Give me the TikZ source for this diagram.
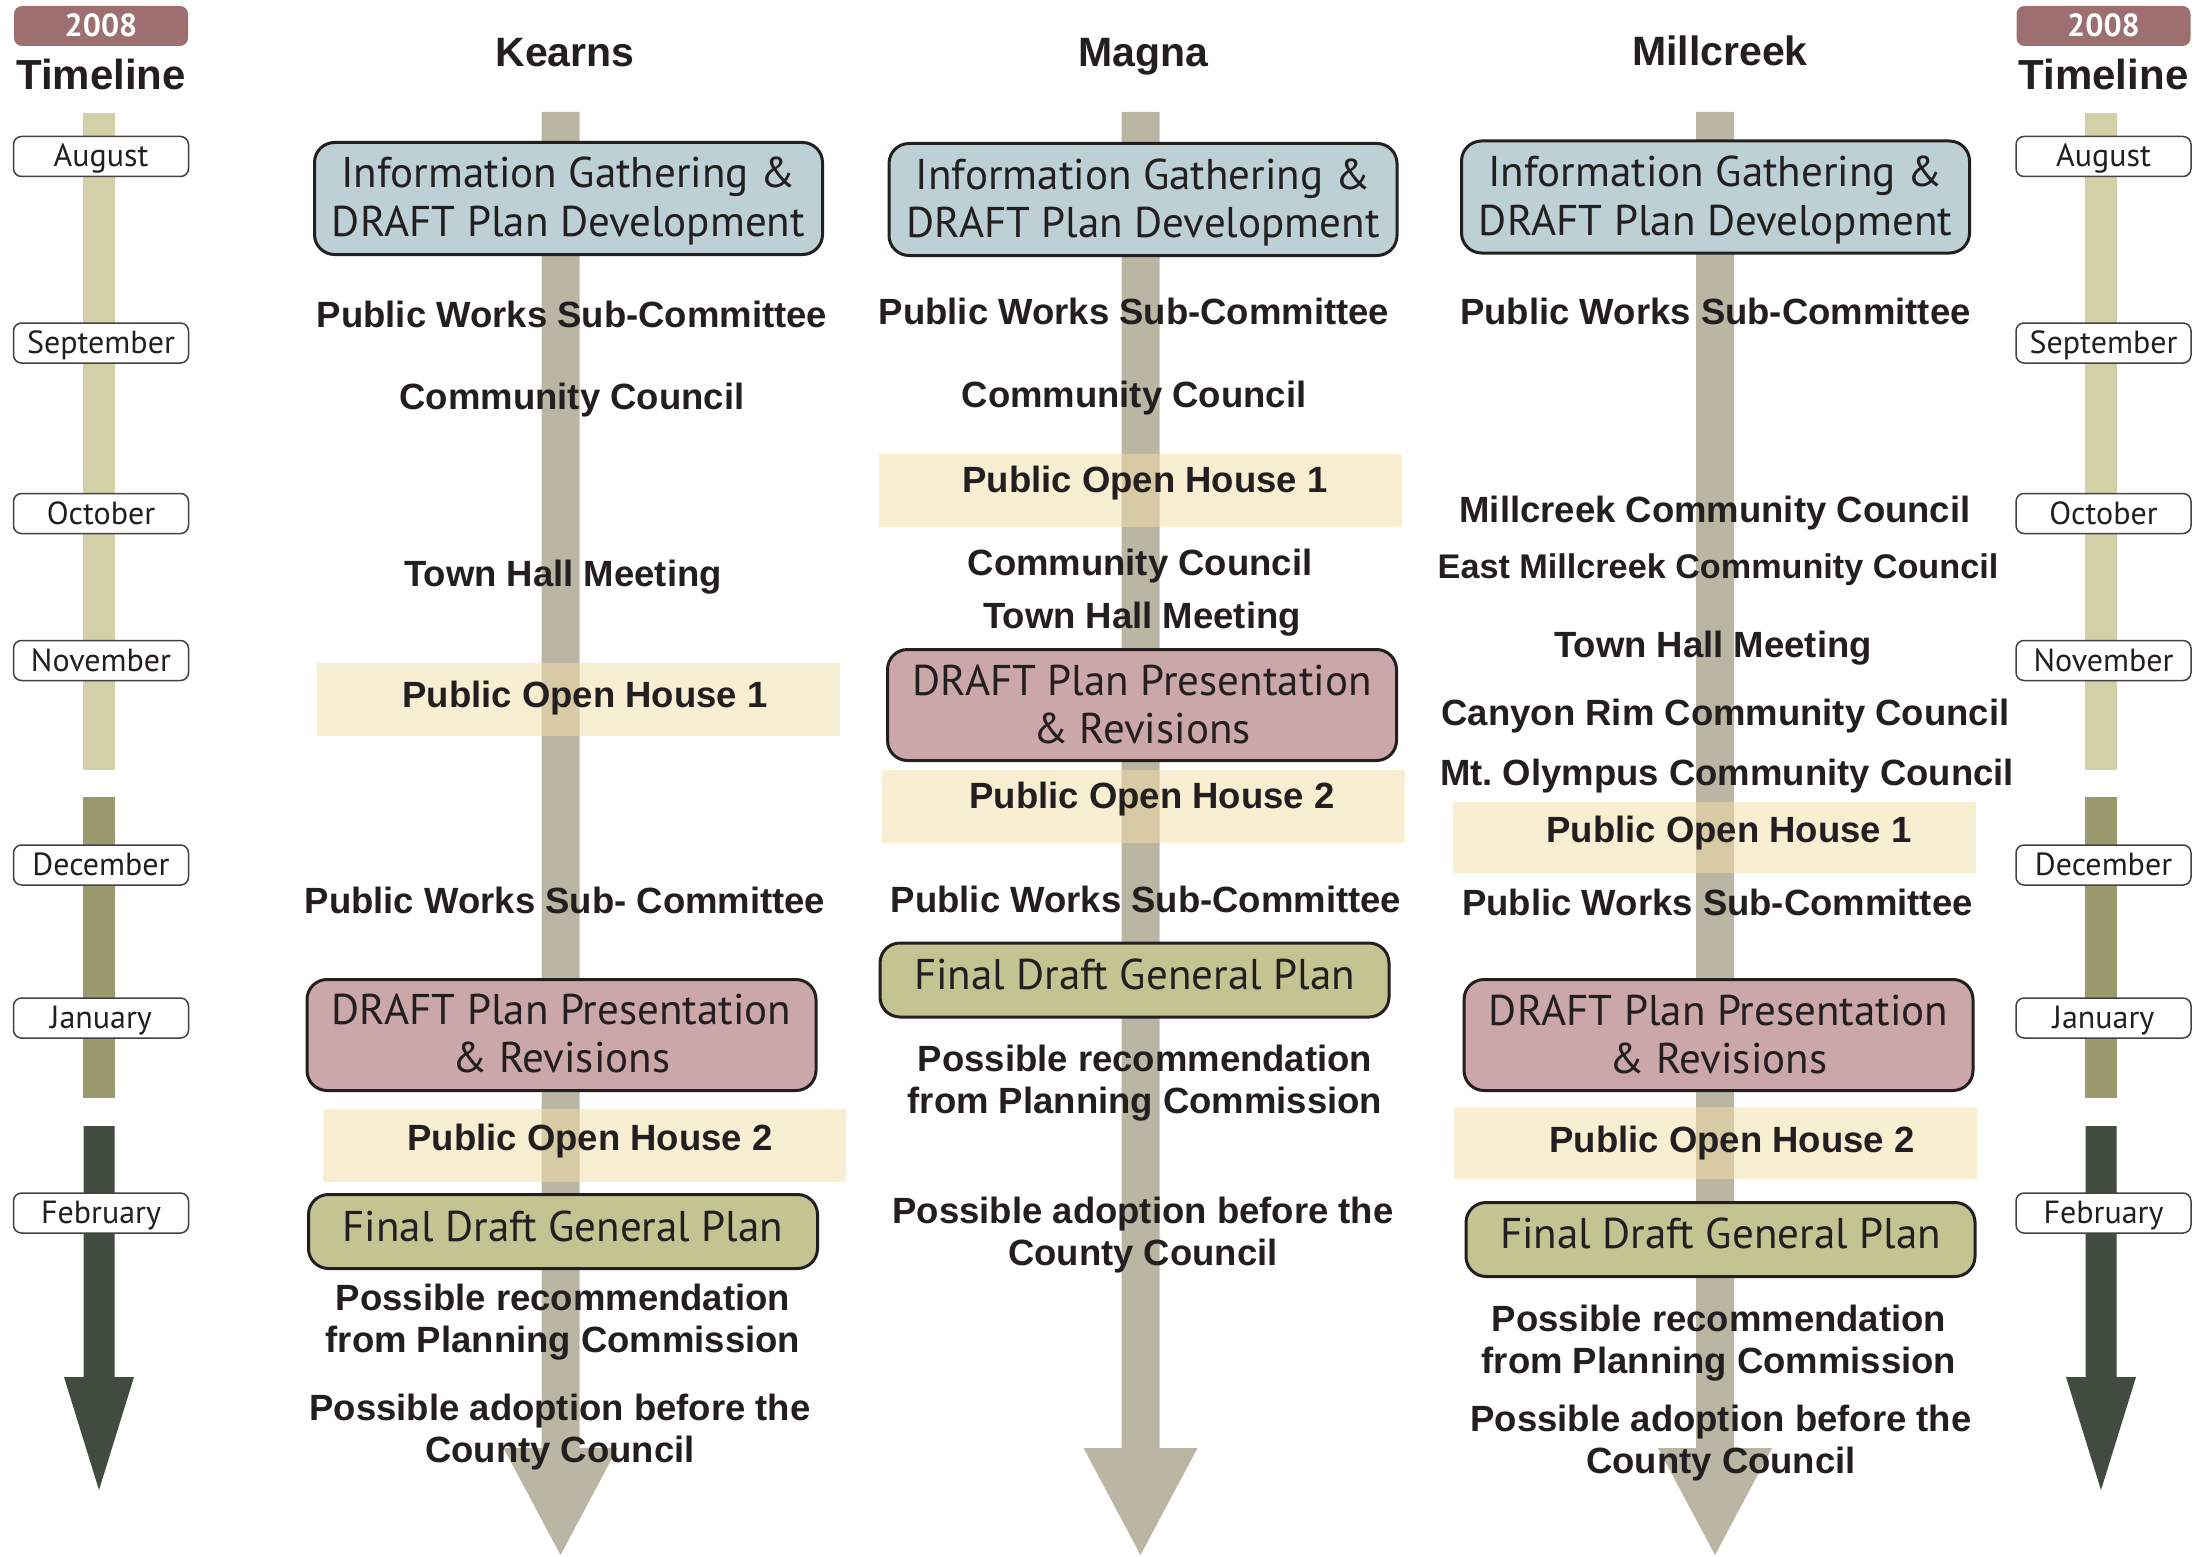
\documentclass[tikz,border=0pt]{standalone}
\usepackage{fontspec}
\setmainfont{Liberation Sans}
\newfontfamily\myriad{PT Sans}

\definecolor{ink}{HTML}{231F20}
\definecolor{badgeRose}{HTML}{9E6F71}
\definecolor{tlLight}{HTML}{D3D0A8}
\definecolor{tlMid}{HTML}{9A9A6E}
\definecolor{tlDark}{HTML}{414B40}
\definecolor{shaftGrey}{HTML}{BBB6A3}
\definecolor{infoBlue}{HTML}{BCD0D6}
\definecolor{draftPink}{HTML}{CBA7AA}
\definecolor{finalOlive}{HTML}{C4C392}
\definecolor{openYellow}{HTML}{F3DFA5}

% vertical column arrow centred at x = #1
\newcommand\colarrow[1]{%
  \fill[shaftGrey] ({#1-19},112) -- ({#1+19},112) -- ({#1+19},1448) -- ({#1+57},1448)
    -- (#1,1555) -- ({#1-57},1448) -- ({#1-19},1448) -- cycle;}

% month timeline strip centred at x = #1
\newcommand\timestrip[1]{%
  \fill[tlLight] ({#1-16},113) rectangle ({#1+16},770);
  \fill[tlMid] ({#1-16},797) rectangle ({#1+16},1098);
  \fill[tlDark] ({#1-15.5},1126) -- ({#1+15.5},1126) -- ({#1+15.5},1377) -- ({#1+35},1377)
    -- (#1,1490) -- ({#1-35},1377) -- ({#1-15.5},1377) -- cycle;}

\begin{document}
\begin{tikzpicture}[x=1pt,y=-1pt,
  stage/.style={draw=ink, line width=3pt, rounded corners=20pt, inner sep=0pt},
  infobox/.style={stage, fill=infoBlue, minimum width=508pt, minimum height=112pt},
  draftbox/.style={stage, fill=draftPink, minimum width=509pt, minimum height=111pt},
  finalbox/.style={stage, fill=finalOlive, minimum width=509pt, minimum height=74pt},
  openband/.style={fill=openYellow, fill opacity=0.5, draw=none, inner sep=0pt,
    minimum width=523pt, minimum height=73pt},
  boxtxt/.style={font=\myriad\fontsize{43}{48}\selectfont, text=ink, align=center,
    inner sep=0pt, anchor=base},
  evt/.style={font=\bfseries\fontsize{36.5}{41.5}\selectfont, text=ink, align=center,
    inner sep=0pt, anchor=base},
  heading/.style={font=\bfseries\fontsize{41}{41}\selectfont, text=ink, inner sep=0pt, anchor=base},
  month/.style={draw=ink!85, line width=1.5pt, fill=white, rounded corners=8pt,
    minimum width=175pt, minimum height=40pt, inner sep=0pt,
    font=\myriad\fontsize{32}{32}\selectfont, text=ink, text height=25pt, text depth=4pt},
  yearbadge/.style={fill=badgeRose, rounded corners=8pt, minimum width=174pt, minimum height=40pt,
    inner sep=0pt, font=\myriad\bfseries\fontsize{32}{32}\selectfont, text=white,
    text height=22pt, text depth=0pt},
  tltitle/.style={font=\bfseries\fontsize{42}{42}\selectfont, text=ink, inner sep=0pt, anchor=base}
]
\useasboundingbox (0,0) rectangle (2194,1557);
\fill[white] (0,0) rectangle (2194,1557);

% ---------- side timelines ----------
\timestrip{99}
\timestrip{2101}
\foreach \side/\cx in {L/101, R/2103.5} {
  \node[yearbadge] (year\side) at (\cx,26) {2008};
  \node[tltitle] (tl\side) at (\cx,90) {Timeline};
  \node[month] (aug\side) at (\cx,156.5) {August};
  \node[month] (sep\side) at (\cx,343) {September};
  \node[month] (oct\side) at (\cx,513.5) {October};
  \node[month] (nov\side) at (\cx,660.5) {November};
  \node[month] (dec\side) at (\cx,865) {December};
  \node[month] (jan\side) at (\cx,1018) {January};
  \node[month] (feb\side) at (\cx,1213) {February};
}

% ---------- column arrows ----------
\colarrow{560.5}
\colarrow{1140.5}
\colarrow{1715}

% ---------- headings ----------
\node[heading] (kearns) at (565,67) {Kearns};
\node[heading] (magna) at (1143,67) {Magna};
\node[heading] (millcreek) at (1720,66) {Millcreek};

% ---------- open house bands ----------
\node[openband] (kpoh1) at (578.5,699.5) {};
\node[openband] (kpoh2) at (584.5,1145.5) {};
\node[openband] (mpoh1) at (1140.5,490.5) {};
\node[openband] (mpoh2) at (1143.5,806.5) {};
\node[openband, minimum height=71pt] (cpoh1) at (1714.5,837.5) {};
\node[openband, minimum height=72pt] (cpoh2) at (1715,1143) {};

% ---------- stage boxes ----------
\node[infobox] (kinfo) at (568.5,198.5) {};
\node[infobox] (minfo) at (1143,199.5) {};
\node[infobox] (cinfo) at (1715.5,197) {};
\node[draftbox] (kdraft) at (561.5,1035) {};
\node[draftbox] (mdraft) at (1142,705) {};
\node[draftbox] (cdraft) at (1718.5,1035) {};
\node[finalbox] (kfinal) at (563,1231.5) {};
\node[finalbox] (mfinal) at (1134.5,980) {};
\node[finalbox] (cfinal) at (1720.5,1239.5) {};

% two-line texts are anchored on the baseline of their last line
\node[boxtxt] (kinfoT) at (568.5,236) {Information Gathering \&\\DRAFT Plan Development};
\node[boxtxt] (minfoT) at (1143,237) {Information Gathering \&\\DRAFT Plan Development};
\node[boxtxt] (cinfoT) at (1715.5,235) {Information Gathering \&\\DRAFT Plan Development};
\node[boxtxt] (kdraftT) at (561.5,1072) {DRAFT Plan Presentation\\\& Revisions};
\node[boxtxt] (mdraftT) at (1142,743) {DRAFT Plan Presentation\\\& Revisions};
\node[boxtxt] (cdraftT) at (1718.5,1073) {DRAFT Plan Presentation\\\& Revisions};
\node[boxtxt] (kfinalT) at (563,1241) {Final Draft General Plan};
\node[boxtxt] (mfinalT) at (1134.5,989) {Final Draft General Plan};
\node[boxtxt] (cfinalT) at (1720.5,1248) {Final Draft General Plan};

% ---------- Kearns events ----------
\node[evt] (k1) at (572,327) {Public Works Sub-Committee};
\node[evt] (k2) at (572,409) {Community Council};
\node[evt] (k3) at (563,586) {Town Hall Meeting};
\node[evt] (k4) at (585,707) {Public Open House 1};
\node[evt] (k5) at (565,913) {Public Works Sub- Committee};
\node[evt] (k6) at (590,1150) {Public Open House 2};
\node[evt] (k7) at (563,1352) {Possible recommendation\\from Planning Commission};
\node[evt] (k8) at (560,1462) {Possible adoption before the\\County Council};

% ---------- Magna events ----------
\node[evt] (m1) at (1134,324) {Public Works Sub-Committee};
\node[evt] (m2) at (1134,407) {Community Council};
\node[evt] (m3) at (1145,492) {Public Open House 1};
\node[evt] (m4) at (1140,575) {Community Council};
\node[evt] (m5) at (1142,628) {Town Hall Meeting};
\node[evt] (m6) at (1152,808) {Public Open House 2};
\node[evt] (m7) at (1146,912) {Public Works Sub-Committee};
\node[evt] (m8) at (1145,1113) {Possible recommendation\\from Planning Commission};
\node[evt] (m9) at (1143,1265) {Possible adoption before the\\County Council};

% ---------- Millcreek events ----------
\node[evt] (c1) at (1715.5,324) {Public Works Sub-Committee};
\node[evt] (c2) at (1715,522) {Millcreek Community Council};
\node[evt, font=\bfseries\fontsize{34.2}{40}\selectfont] (c3) at (1718,578) {East Millcreek Community Council};
\node[evt] (c4) at (1713,657) {Town Hall Meeting};
\node[evt] (c5) at (1725.5,725) {Canyon Rim Community Council};
\node[evt] (c6) at (1727,785) {Mt.\ Olympus Community Council};
\node[evt] (c7) at (1729,842) {Public Open House 1};
\node[evt] (c8) at (1717.5,915) {Public Works Sub-Committee};
\node[evt] (c9) at (1732,1152) {Public Open House 2};
\node[evt] (c10) at (1719,1373) {Possible recommendation\\from Planning Commission};
\node[evt] (c11) at (1721,1473) {Possible adoption before the\\County Council};
\end{tikzpicture}
\end{document}
